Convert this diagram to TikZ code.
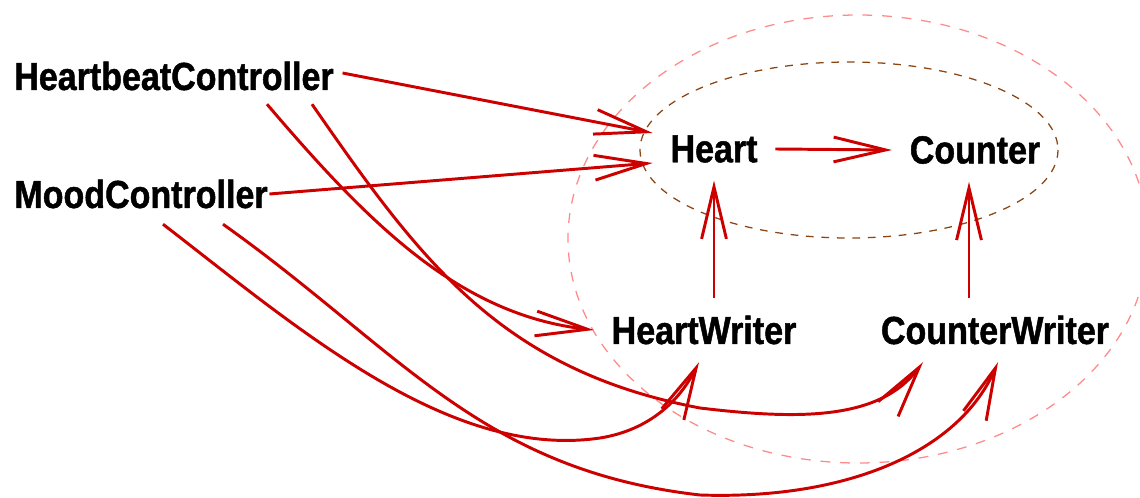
\documentclass[tikz,border=0pt]{standalone}
\usepackage{fontspec}
\newfontfamily\compfont{Liberation Sans}[FakeStretch=0.87, BoldFeatures={FakeBold=1.2}]
\usetikzlibrary{arrows.meta, calc}
\definecolor{cred}{HTML}{CD0000}
\definecolor{csalmon}{HTML}{FF8A8A}
\definecolor{cbrown}{HTML}{8B4513}
\tikzset{
  comp/.style={font=\compfont\bfseries\fontsize{27.8pt}{32pt}\selectfont, inner sep=12.5pt},
  link/.style={draw=cred, line width=2.1pt, -{Straight Barb[length=1.3cm, width=0.62cm, line width=2.1pt]}},
  zone/.style={draw=#1, line width=0.9pt, dash pattern=on 7pt off 7pt},
}

\begin{document}
\begin{tikzpicture}[x=0.025cm, y=-0.025cm]
  \useasboundingbox (0,0) rectangle (1140,498);
  % dashed groups
  \draw[zone=csalmon] (858,239) ellipse [x radius=290, y radius=224];
  \draw[zone=cbrown, dash pattern=on 5.5pt off 5.5pt] (849,150) ellipse [x radius=209, y radius=88];
  % components
  \node[comp] (hc) at (174,76) {HeartbeatController};
  \node[comp] (mc) at (141,194) {MoodController};
  \node[comp] (heart) at (714,149) {Heart};
  \node[comp] (counter) at (975,150) {Counter};
  \node[comp] (hw) at (704,330) {HeartWriter};
  \node[comp] (cw) at (995,330) {CounterWriter};
  % straight links
  \draw[link] ($(hc.east)+(-9,-3)$) -- ($(heart.west)+(0,-16)$);
  \draw[link] ($(mc.east)+(-16,0)$) -- ($(heart.west)+(0,14)$);
  \draw[link] (heart.east) -- (counter.west);
  \draw[link] (hw.north -| heart.south) -- (heart.south);
  \draw[link] ($(cw.north -| counter.south)+(-6,0)$) -- ($(counter.south)+(-6,0)$);
  % curved links
  \draw[link] ($(hc.south)+(93,-4)$) .. controls (370,225) and (460,315) .. (hw.west);
  \draw[link] ($(hc.south)+(138,-4)$) .. controls (420,260) and (500,370) .. (700,408)
    .. controls (800,420) and (880,420) .. ($(cw.south)+(-72,0)$);
  \draw[link] ($(mc.south)+(22,-2)$) .. controls (300,330) and (450,460) .. (600,438)
    .. controls (650,430) and (680,400) .. ($(hw.south)+(-5,0)$);
  \draw[link] ($(mc.south)+(82,-2)$) .. controls (400,350) and (480,470) .. (700,495)
    .. controls (850,500) and (960,450) .. ($(cw.south)+(3,0)$);
\end{tikzpicture}
\end{document}
